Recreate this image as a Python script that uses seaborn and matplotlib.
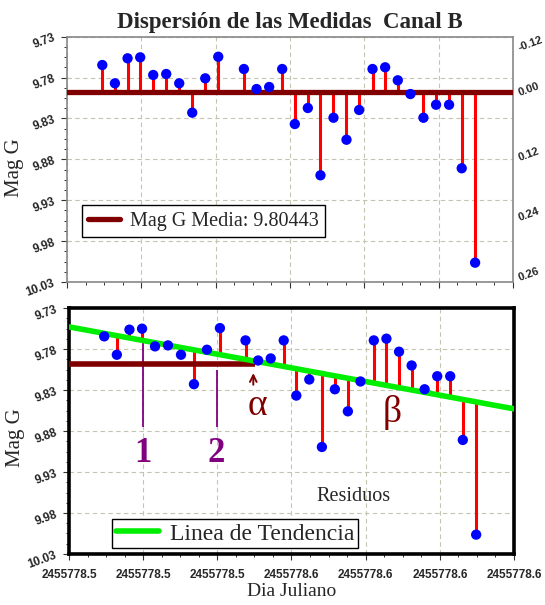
import numpy as np
import pandas as pd
import seaborn as sns
import matplotlib
matplotlib.use("Agg")
from matplotlib import pyplot as plt
from matplotlib.ticker import FixedLocator, AutoMinorLocator, FormatStrFormatter

# data (Julian day = 2455778.5 + offset)
jd0 = 2455778.5
jd_offset = [0.0095, 0.0129, 0.0163, 0.0197, 0.0232, 0.0267, 0.0302, 0.0337,
             0.0372, 0.0407, 0.0476, 0.0510, 0.0544, 0.0579, 0.0613, 0.0648,
             0.0682, 0.0717, 0.0752, 0.0786, 0.0822, 0.0856, 0.0890, 0.0924,
             0.0959, 0.0993, 0.1028, 0.1062, 0.1098]
mag_g = [9.7646, 9.7870, 9.7564, 9.7552, 9.7768, 9.7756, 9.7870, 9.8229,
         9.7809, 9.7545, 9.7695, 9.7940, 9.7915, 9.7695, 9.8368, 9.8172,
         9.8995, 9.8291, 9.8560, 9.8196, 9.7695, 9.7674, 9.7833, 9.8001,
         9.8291, 9.8132, 9.8132, 9.8909, 10.0064]
mean_line = 9.798          # level of the drawn mean line
mean_label = "Mag G Media: 9.80443"
trend_start = 9.753        # trend line at x = 2455778.50
trend_end = 9.853          # trend line at x = 2455778.62
mean_stop = 0.0502         # where the mean line stops in the lower panel

right_ticks = [9.733, 9.789, 9.869, 9.942, 10.015]
right_labels = ["-0.12", "0.00", "0.12", "0.24", "0.26"]
y_ticks = [9.73, 9.78, 9.83, 9.88, 9.93, 9.98, 10.03]
x_ticks = [jd0 + d for d in [0.0, 0.02, 0.04, 0.06, 0.08, 0.10, 0.12]]

df = pd.DataFrame({"jd": jd0 + np.array(jd_offset), "mag": mag_g})
x_lo, x_hi = x_ticks[0], x_ticks[-1]
df["trend"] = trend_start + (df["jd"] - x_lo) / (x_hi - x_lo) * (trend_end - trend_start)

sns.set_theme(style="white")
plt.rcParams["font.family"] = ["Liberation Serif", "DejaVu Serif"]

SANS = "Liberation Sans"
MAROON = "#800000"
GRID = "#c4c4b0"

fig = plt.figure(figsize=(5.45, 6.05), dpi=100)
ax0 = fig.add_axes([0.1229, 0.5339, 0.8184, 0.4054])
ax1 = fig.add_axes([0.1266, 0.0843, 0.8165, 0.4066])


def style_axis(ax, spine_color, spine_w, label_xy):
    ax.set_xlim(x_lo, x_hi)
    ax.set_ylim(10.03, 9.73)
    ax.xaxis.set_major_locator(FixedLocator(x_ticks))
    ax.xaxis.set_minor_locator(AutoMinorLocator(4))
    ax.yaxis.set_major_locator(FixedLocator(y_ticks))
    ax.yaxis.set_minor_locator(AutoMinorLocator(4))
    ax.yaxis.set_major_formatter(FormatStrFormatter("%.2f"))
    ax.xaxis.set_major_formatter(FormatStrFormatter("%.1f"))
    ax.grid(True, which="major", color=GRID, linestyle=(0, (4, 3)), linewidth=0.8)
    ax.tick_params(which="major", length=4, width=0.8, color="#333333",
                   bottom=True, left=True, direction="out")
    ax.tick_params(which="minor", length=2, width=0.7, color="#333333",
                   bottom=True, left=True, direction="out")
    ax.tick_params(axis="x", pad=7)
    for sp in ax.spines.values():
        sp.set_color(spine_color)
        sp.set_linewidth(spine_w)
    for lab in ax.get_yticklabels():
        lab.set_fontfamily(SANS)
        lab.set_fontweight("bold")
        lab.set_fontsize(8.5)
        lab.set_rotation(20)
    ax.set_ylabel("Mag G", fontsize=15, va="center")
    ax.yaxis.set_label_coords(*label_xy)


# ---- top panel: dispersion around the mean
ax0.vlines(df["jd"], mean_line, df["mag"], color="red", linewidth=2.2, zorder=3)
ax0.axhline(mean_line, color=MAROON, linewidth=3.8, zorder=4, label=mean_label)
sns.scatterplot(data=df, x="jd", y="mag", ax=ax0, color="blue", s=55,
                edgecolor="none", zorder=5, legend=False)
style_axis(ax0, "#888888", 1.2, (-0.117, 0.465))
ax0.set_xticklabels([])
ax0.set_xlabel("")
ax0.set_title("Dispersión de las Medidas  Canal B", fontsize=16.5,
              fontweight="bold", pad=6)
leg0 = ax0.legend(loc="lower left", bbox_to_anchor=(0.033, 0.185),
                  borderaxespad=0, fancybox=False, edgecolor="black",
                  fontsize=14.5, handlelength=1.6, handletextpad=0.5,
                  borderpad=0.3, framealpha=1)
leg0.get_frame().set_linewidth(1.0)

axr = ax0.twinx()
axr.set_ylim(10.03, 9.73)
axr.yaxis.set_major_locator(FixedLocator(right_ticks))
axr.set_yticklabels(right_labels)
axr.tick_params(axis="y", length=0, pad=3)
for lab in axr.get_yticklabels():
    lab.set_fontfamily(SANS)
    lab.set_fontweight("bold")
    lab.set_fontsize(8)
    lab.set_rotation(20)
for sp in axr.spines.values():
    sp.set_visible(False)

# ---- bottom panel: residuals around the trend line
ax1.vlines(df["jd"], df["trend"], df["mag"], color="red", linewidth=2.2, zorder=3)
ax1.hlines(mean_line, x_lo, jd0 + mean_stop, color=MAROON, linewidth=4, zorder=4)
sns.lineplot(x=[x_lo, x_hi], y=[trend_start, trend_end], ax=ax1,
             color="#00ee00", linewidth=4, zorder=4, label="Linea de Tendencia")
sns.scatterplot(data=df, x="jd", y="mag", ax=ax1, color="blue", s=55,
                edgecolor="none", zorder=5, legend=False)
style_axis(ax1, "black", 2.6, (-0.121, 0.472))
ax1.set_xlabel("Dia Juliano", fontsize=14, labelpad=1)
for lab in ax1.get_xticklabels():
    lab.set_fontfamily(SANS)
    lab.set_fontweight("bold")
    lab.set_fontsize(8.5)

# annotations
PURPLE = "#800080"
ax1.vlines([jd0 + 0.0199], 9.757, 9.875, color=PURPLE, linewidth=1.3, zorder=2)
ax1.vlines([jd0 + 0.0398], 9.806, 9.875, color=PURPLE, linewidth=1.3, zorder=2)
ax1.text(jd0 + 0.0199, 9.907, "1", color=PURPLE, fontsize=25, fontweight="bold",
         ha="center", va="center")
ax1.text(jd0 + 0.0398, 9.907, "2", color=PURPLE, fontsize=25, fontweight="bold",
         ha="center", va="center")
ax1.annotate("", xy=(jd0 + 0.0497, 9.806), xytext=(jd0 + 0.0497, 9.827),
             arrowprops=dict(arrowstyle="->", color=MAROON, lw=1.4))
ax1.text(jd0 + 0.0507, 9.849, "α", color=MAROON, fontsize=27,
         ha="center", va="center")
ax1.text(jd0 + 0.0871, 9.858, "β", color=MAROON, fontsize=27,
         ha="center", va="center")
ax1.text(jd0 + 0.0766, 9.960, "Residuos", fontsize=14.5, ha="center", va="center")

leg1 = ax1.legend(loc="lower left", bbox_to_anchor=(0.097, 0.024),
                  borderaxespad=0, fancybox=False, edgecolor="black",
                  fontsize=17, handlelength=1.85, handletextpad=0.45,
                  borderpad=0.15, framealpha=1)
leg1.get_frame().set_linewidth(1.0)

fig.savefig("out.png", dpi=100)
